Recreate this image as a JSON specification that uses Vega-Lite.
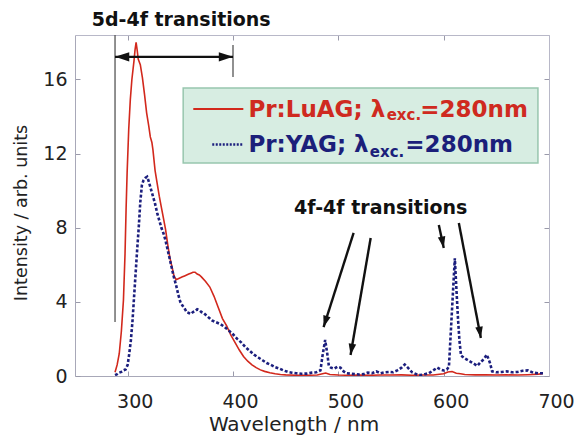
{
  "$schema": "https://vega.github.io/schema/vega-lite/v6.json",
  "width": 474,
  "height": 341,
  "autosize": {"type": "none"},
  "padding": {"left": 75, "top": 35, "right": 28, "bottom": 62},
  "background": "white",
  "config": {
    "view": {"stroke": null},
    "font": "DejaVu Sans",
    "axis": {"grid": false}
  },
  "datasets": {
    "luag": [
      {"w": 288, "v": 0.2}, {"w": 290, "v": 0.6}, {"w": 292, "v": 1.2}, {"w": 294, "v": 2.4},
      {"w": 296, "v": 4.1}, {"w": 297.5, "v": 6.6}, {"w": 298.5, "v": 9.0}, {"w": 299.5, "v": 11.0},
      {"w": 301, "v": 13.3}, {"w": 302.5, "v": 14.9}, {"w": 304, "v": 16.0}, {"w": 306, "v": 17.0},
      {"w": 307, "v": 17.6}, {"w": 308, "v": 18.0}, {"w": 309, "v": 17.6}, {"w": 310, "v": 17.1},
      {"w": 312, "v": 16.8}, {"w": 314, "v": 16.1}, {"w": 316, "v": 15.2}, {"w": 318, "v": 14.2},
      {"w": 320, "v": 13.5}, {"w": 321.5, "v": 12.9}, {"w": 323, "v": 12.6}, {"w": 324, "v": 12.2},
      {"w": 326, "v": 11.1}, {"w": 328, "v": 10.4}, {"w": 330, "v": 9.7}, {"w": 332, "v": 9.1},
      {"w": 334, "v": 8.5}, {"w": 336, "v": 7.9}, {"w": 338, "v": 7.1}, {"w": 340, "v": 6.4},
      {"w": 342, "v": 5.9}, {"w": 344, "v": 5.4}, {"w": 346, "v": 5.2}, {"w": 348, "v": 5.25},
      {"w": 350, "v": 5.3}, {"w": 352, "v": 5.35}, {"w": 354, "v": 5.4}, {"w": 356, "v": 5.45},
      {"w": 358, "v": 5.5}, {"w": 360, "v": 5.55}, {"w": 362, "v": 5.6}, {"w": 364, "v": 5.6},
      {"w": 366, "v": 5.5}, {"w": 368, "v": 5.45}, {"w": 370, "v": 5.35}, {"w": 374, "v": 5.1},
      {"w": 378, "v": 4.8}, {"w": 382, "v": 4.3}, {"w": 386, "v": 3.7}, {"w": 390, "v": 3.1},
      {"w": 394, "v": 2.7}, {"w": 398, "v": 2.2}, {"w": 402, "v": 1.8}, {"w": 406, "v": 1.4},
      {"w": 410, "v": 1.05}, {"w": 414, "v": 0.8}, {"w": 418, "v": 0.6}, {"w": 422, "v": 0.45},
      {"w": 426, "v": 0.33}, {"w": 430, "v": 0.25}, {"w": 435, "v": 0.18}, {"w": 440, "v": 0.12},
      {"w": 445, "v": 0.08}, {"w": 450, "v": 0.06}, {"w": 460, "v": 0.04}, {"w": 470, "v": 0.04},
      {"w": 480, "v": 0.05}, {"w": 485, "v": 0.12}, {"w": 488, "v": 0.16}, {"w": 492, "v": 0.08},
      {"w": 500, "v": 0.05}, {"w": 510, "v": 0.04}, {"w": 520, "v": 0.05}, {"w": 530, "v": 0.04},
      {"w": 540, "v": 0.05}, {"w": 550, "v": 0.05}, {"w": 560, "v": 0.06}, {"w": 570, "v": 0.04},
      {"w": 580, "v": 0.05}, {"w": 590, "v": 0.05}, {"w": 600, "v": 0.12}, {"w": 604, "v": 0.22},
      {"w": 608, "v": 0.24}, {"w": 612, "v": 0.15}, {"w": 616, "v": 0.12}, {"w": 620, "v": 0.08},
      {"w": 630, "v": 0.06}, {"w": 640, "v": 0.07}, {"w": 650, "v": 0.05}, {"w": 660, "v": 0.06},
      {"w": 670, "v": 0.05}, {"w": 680, "v": 0.07}, {"w": 690, "v": 0.1}, {"w": 694, "v": 0.12}
    ],
    "yag": [
      {"w": 288, "v": 0.05}, {"w": 290, "v": 0.1}, {"w": 292, "v": 0.18}, {"w": 294, "v": 0.22},
      {"w": 296, "v": 0.3}, {"w": 298, "v": 0.35}, {"w": 300, "v": 0.6}, {"w": 301.5, "v": 1.2},
      {"w": 303, "v": 1.9}, {"w": 304.5, "v": 2.9}, {"w": 306, "v": 4.2}, {"w": 307.5, "v": 5.5},
      {"w": 309, "v": 6.8}, {"w": 310.5, "v": 8.0}, {"w": 312, "v": 9.4}, {"w": 313.5, "v": 10.3},
      {"w": 315, "v": 10.55}, {"w": 317, "v": 10.7}, {"w": 318.5, "v": 10.75}, {"w": 320, "v": 10.5},
      {"w": 322, "v": 10.1}, {"w": 324, "v": 9.7}, {"w": 326, "v": 9.3}, {"w": 328, "v": 8.8},
      {"w": 330, "v": 8.4}, {"w": 332, "v": 8.0}, {"w": 334, "v": 7.7}, {"w": 336, "v": 7.3},
      {"w": 338, "v": 6.8}, {"w": 340, "v": 6.3}, {"w": 342, "v": 5.8}, {"w": 344, "v": 5.3},
      {"w": 346, "v": 4.9}, {"w": 348, "v": 4.4}, {"w": 350, "v": 4.0}, {"w": 352, "v": 3.8},
      {"w": 354, "v": 3.65}, {"w": 356, "v": 3.45}, {"w": 358, "v": 3.4}, {"w": 360, "v": 3.35},
      {"w": 362, "v": 3.45}, {"w": 364, "v": 3.5}, {"w": 366, "v": 3.6}, {"w": 368, "v": 3.55},
      {"w": 370, "v": 3.45}, {"w": 372, "v": 3.4}, {"w": 374, "v": 3.3}, {"w": 376, "v": 3.2},
      {"w": 378, "v": 3.1}, {"w": 380, "v": 3.0}, {"w": 384, "v": 2.9}, {"w": 388, "v": 2.8},
      {"w": 392, "v": 2.65}, {"w": 396, "v": 2.45}, {"w": 400, "v": 2.25}, {"w": 404, "v": 2.0},
      {"w": 408, "v": 1.8}, {"w": 412, "v": 1.55}, {"w": 416, "v": 1.35}, {"w": 420, "v": 1.15},
      {"w": 424, "v": 1.0}, {"w": 428, "v": 0.85}, {"w": 432, "v": 0.7}, {"w": 436, "v": 0.6},
      {"w": 440, "v": 0.48}, {"w": 444, "v": 0.4}, {"w": 448, "v": 0.3}, {"w": 452, "v": 0.22},
      {"w": 456, "v": 0.18}, {"w": 460, "v": 0.15}, {"w": 465, "v": 0.12}, {"w": 470, "v": 0.13},
      {"w": 475, "v": 0.18}, {"w": 479, "v": 0.2}, {"w": 483, "v": 0.3}, {"w": 485, "v": 1.1},
      {"w": 487.5, "v": 1.94}, {"w": 489.5, "v": 1.2}, {"w": 491, "v": 0.55}, {"w": 493, "v": 0.45},
      {"w": 496, "v": 0.4}, {"w": 499, "v": 0.5}, {"w": 502, "v": 0.45}, {"w": 505, "v": 0.25},
      {"w": 508, "v": 0.15}, {"w": 512, "v": 0.12}, {"w": 516, "v": 0.1}, {"w": 520, "v": 0.08},
      {"w": 524, "v": 0.1}, {"w": 528, "v": 0.18}, {"w": 532, "v": 0.15}, {"w": 536, "v": 0.25},
      {"w": 540, "v": 0.15}, {"w": 544, "v": 0.2}, {"w": 548, "v": 0.22}, {"w": 552, "v": 0.2},
      {"w": 556, "v": 0.3}, {"w": 560, "v": 0.45}, {"w": 563, "v": 0.62}, {"w": 566, "v": 0.45},
      {"w": 570, "v": 0.2}, {"w": 574, "v": 0.1}, {"w": 578, "v": 0.05}, {"w": 582, "v": 0.1},
      {"w": 586, "v": 0.15}, {"w": 590, "v": 0.3}, {"w": 594, "v": 0.45}, {"w": 597, "v": 0.35},
      {"w": 600, "v": 0.3}, {"w": 603, "v": 0.35}, {"w": 605, "v": 0.5}, {"w": 607, "v": 2.6},
      {"w": 609, "v": 4.7}, {"w": 610.6, "v": 6.35}, {"w": 612, "v": 4.8}, {"w": 613.7, "v": 3.0},
      {"w": 615, "v": 1.9}, {"w": 616.5, "v": 1.1}, {"w": 620, "v": 0.95}, {"w": 623, "v": 0.85},
      {"w": 626, "v": 0.75}, {"w": 629, "v": 0.65}, {"w": 632, "v": 0.55}, {"w": 635, "v": 0.75},
      {"w": 638, "v": 0.9}, {"w": 641, "v": 1.15}, {"w": 644, "v": 0.7}, {"w": 646, "v": 0.25},
      {"w": 650, "v": 0.2}, {"w": 655, "v": 0.22}, {"w": 660, "v": 0.25}, {"w": 665, "v": 0.2},
      {"w": 670, "v": 0.22}, {"w": 675, "v": 0.28}, {"w": 680, "v": 0.3}, {"w": 685, "v": 0.18},
      {"w": 690, "v": 0.15}, {"w": 695, "v": 0.15}
    ],
    "guides": [
      {"w": 288, "v": 18.4, "v2": 2.91},
      {"w": 400, "v": 17.86, "v2": 16.14}
    ],
    "arrows": [
      {"id": "span", "w": 288, "v": 17.22, "w2": 400, "v2": 17.22},
      {"id": "a1", "w": 514.5, "v": 7.72, "w2": 486.0, "v2": 2.64},
      {"id": "a2", "w": 530.7, "v": 7.45, "w2": 511.6, "v2": 1.13},
      {"id": "a3", "w": 595.4, "v": 8.15, "w2": 600.1, "v2": 6.91},
      {"id": "a4", "w": 614.4, "v": 8.26, "w2": 635.3, "v2": 2.05}
    ],
    "labels": [
      {"t": "5d-4f transitions", "w": 350.8, "v": 19.21},
      {"t": "4f-4f transitions", "w": 540.2, "v": 9.07}
    ],
    "legendbox": [{"w": 352.7, "w2": 689.5, "v": 15.54, "v2": 11.49}],
    "legendlines": [
      {"s": "LuAG", "w": 362.3, "w2": 409.8, "v": 14.41},
      {"s": "YAG", "w": 380.3, "w2": 409.8, "v": 12.49}
    ],
    "legendmain": [
      {"s": "LuAG", "t": "Pr:LuAG; λ", "w": 414.6, "v": 13.99},
      {"s": "YAG", "t": "Pr:YAG; λ", "w": 414.6, "v": 12.1}
    ],
    "legendsub": [
      {"s": "LuAG", "t": "exc.", "w": 545.9, "v": 13.8},
      {"s": "YAG", "t": "exc.", "w": 529.9, "v": 11.84}
    ],
    "legendtail": [
      {"s": "LuAG", "t": "=280nm", "w": 680.0, "v": 13.99},
      {"s": "YAG", "t": "=280nm", "w": 665.8, "v": 12.1}
    ],
    "frame": [{"w": 250, "v": 0}]
  },
  "layer": [
    {
      "layer": [
        {
          "data": {"name": "luag"},
          "mark": {"type": "line", "color": "#d2281c", "strokeWidth": 1.6, "clip": true},
          "encoding": {
            "x": {
              "field": "w", "type": "quantitative",
              "scale": {"domain": [250, 700], "nice": false, "zero": false},
              "axis": {
                "values": [300, 400, 500, 600, 700],
                "title": "Wavelength / nm",
                "tickSize": -5, "tickColor": "#9a9aaa", "domainColor": "#a8a8b8",
                "labelFont": "DejaVu Sans", "labelFontSize": 19, "labelColor": "#222222",
                "labelPadding": 21, "labelOffset": 7, "labelFlush": false,
                "titleFont": "DejaVu Sans", "titleFontSize": 20, "titleFontWeight": "normal",
                "titleColor": "#222222", "titleX": 218.5, "titleY": 48,
                "titleBaseline": "middle", "titleAlign": "center"
              }
            },
            "y": {
              "field": "v", "type": "quantitative",
              "scale": {"domain": [0, 18.4], "nice": false},
              "axis": {
                "values": [0, 4, 8, 12, 16],
                "title": "Intensity / arb. units",
                "tickSize": -5, "tickColor": "#9a9aaa", "domainColor": "#a8a8b8",
                "labelFont": "DejaVu Sans", "labelFontSize": 19, "labelColor": "#222222",
                "labelPadding": 13,
                "titleFont": "DejaVu Sans", "titleFontSize": 17.5, "titleFontWeight": "normal",
                "titleColor": "#222222", "titleX": -54, "titleY": 177.5,
                "titleBaseline": "middle", "titleAlign": "center", "titleAngle": -90
              }
            }
          }
        },
        {
          "data": {"name": "yag"},
          "mark": {"type": "line", "color": "#1c1f7e", "strokeWidth": 2.6, "strokeDash": [3, 2], "clip": true},
          "encoding": {
            "x": {"field": "w", "type": "quantitative"},
            "y": {"field": "v", "type": "quantitative"}
          }
        },
        {
          "data": {"name": "guides"},
          "mark": {"type": "rule", "color": "#555555", "strokeWidth": 1.3},
          "encoding": {
            "x": {"field": "w", "type": "quantitative"},
            "y": {"field": "v", "type": "quantitative"},
            "y2": {"field": "v2"}
          }
        },
        {
          "data": {"name": "arrows"},
          "mark": {"type": "rule", "color": "#111111", "strokeWidth": 2.4},
          "encoding": {
            "x": {"field": "w", "type": "quantitative"},
            "y": {"field": "v", "type": "quantitative"},
            "x2": {"field": "w2"},
            "y2": {"field": "v2"}
          }
        },
        {
          "data": {"name": "arrows"},
          "transform": [{"filter": "datum.id === 'span'"}],
          "mark": {"type": "point", "shape": "M0,0L-0.8,2.4L0.8,2.4Z", "filled": true, "color": "#111111", "opacity": 1, "size": 140, "angle": 270},
          "encoding": {
            "x": {"field": "w", "type": "quantitative"},
            "y": {"field": "v", "type": "quantitative"}
          }
        },
        {
          "data": {"name": "arrows"},
          "transform": [{"filter": "datum.id === 'span'"}],
          "mark": {"type": "point", "shape": "M0,0L-0.8,2.4L0.8,2.4Z", "filled": true, "color": "#111111", "opacity": 1, "size": 140, "angle": 90},
          "encoding": {
            "x": {"field": "w2", "type": "quantitative"},
            "y": {"field": "v2", "type": "quantitative"}
          }
        },
        {
          "data": {"name": "arrows"},
          "transform": [{"filter": "datum.id === 'a1'"}],
          "mark": {"type": "point", "shape": "M0,0L-0.8,2.4L0.8,2.4Z", "filled": true, "color": "#111111", "opacity": 1, "size": 90, "angle": 197.2},
          "encoding": {
            "x": {"field": "w2", "type": "quantitative"},
            "y": {"field": "v2", "type": "quantitative"}
          }
        },
        {
          "data": {"name": "arrows"},
          "transform": [{"filter": "datum.id === 'a2'"}],
          "mark": {"type": "point", "shape": "M0,0L-0.8,2.4L0.8,2.4Z", "filled": true, "color": "#111111", "opacity": 1, "size": 90, "angle": 189.5},
          "encoding": {
            "x": {"field": "w2", "type": "quantitative"},
            "y": {"field": "v2", "type": "quantitative"}
          }
        },
        {
          "data": {"name": "arrows"},
          "transform": [{"filter": "datum.id === 'a3'"}],
          "mark": {"type": "point", "shape": "M0,0L-0.8,2.4L0.8,2.4Z", "filled": true, "color": "#111111", "opacity": 1, "size": 90, "angle": 168.7},
          "encoding": {
            "x": {"field": "w2", "type": "quantitative"},
            "y": {"field": "v2", "type": "quantitative"}
          }
        },
        {
          "data": {"name": "arrows"},
          "transform": [{"filter": "datum.id === 'a4'"}],
          "mark": {"type": "point", "shape": "M0,0L-0.8,2.4L0.8,2.4Z", "filled": true, "color": "#111111", "opacity": 1, "size": 90, "angle": 170.8},
          "encoding": {
            "x": {"field": "w2", "type": "quantitative"},
            "y": {"field": "v2", "type": "quantitative"}
          }
        },
        {
          "data": {"name": "labels"},
          "mark": {"type": "text", "font": "DejaVu Sans", "fontWeight": "bold", "fontSize": 19, "color": "#111111", "align": "center", "baseline": "middle"},
          "encoding": {
            "x": {"field": "w", "type": "quantitative"},
            "y": {"field": "v", "type": "quantitative"},
            "text": {"field": "t"}
          }
        },
        {
          "data": {"name": "legendbox"},
          "mark": {"type": "rect", "fill": "#d7ede2", "stroke": "#98c6ae", "strokeWidth": 1.5},
          "encoding": {
            "x": {"field": "w", "type": "quantitative"},
            "x2": {"field": "w2"},
            "y": {"field": "v", "type": "quantitative"},
            "y2": {"field": "v2"}
          }
        },
        {
          "data": {"name": "legendlines"},
          "transform": [{"filter": "datum.s === 'LuAG'"}],
          "mark": {"type": "rule", "color": "#d2281c", "strokeWidth": 2},
          "encoding": {
            "x": {"field": "w", "type": "quantitative"},
            "x2": {"field": "w2"},
            "y": {"field": "v", "type": "quantitative"}
          }
        },
        {
          "data": {"name": "legendlines"},
          "transform": [{"filter": "datum.s === 'YAG'"}],
          "mark": {"type": "rule", "color": "#1c1f7e", "strokeWidth": 2.4, "strokeDash": [2, 1.5]},
          "encoding": {
            "x": {"field": "w", "type": "quantitative"},
            "x2": {"field": "w2"},
            "y": {"field": "v", "type": "quantitative"}
          }
        },
        {
          "data": {"name": "legendmain"},
          "mark": {"type": "text", "font": "DejaVu Sans", "fontWeight": "bold", "fontSize": 23, "align": "left", "baseline": "alphabetic"},
          "encoding": {
            "x": {"field": "w", "type": "quantitative"},
            "y": {"field": "v", "type": "quantitative"},
            "text": {"field": "t"},
            "color": {"field": "s", "type": "nominal", "scale": {"domain": ["LuAG", "YAG"], "range": ["#cf2a20", "#1b1f7a"]}, "legend": null}
          }
        },
        {
          "data": {"name": "legendsub"},
          "mark": {"type": "text", "font": "DejaVu Sans", "fontWeight": "bold", "fontSize": 15, "align": "left", "baseline": "alphabetic"},
          "encoding": {
            "x": {"field": "w", "type": "quantitative"},
            "y": {"field": "v", "type": "quantitative"},
            "text": {"field": "t"},
            "color": {"field": "s", "type": "nominal", "legend": null}
          }
        },
        {
          "data": {"name": "legendtail"},
          "mark": {"type": "text", "font": "DejaVu Sans", "fontWeight": "bold", "fontSize": 23, "align": "right", "baseline": "alphabetic"},
          "encoding": {
            "x": {"field": "w", "type": "quantitative"},
            "y": {"field": "v", "type": "quantitative"},
            "text": {"field": "t"},
            "color": {"field": "s", "type": "nominal", "legend": null}
          }
        }
      ]
    },
    {
      "data": {"name": "frame"},
      "mark": {"type": "point", "opacity": 0},
      "encoding": {
        "x": {
          "field": "w", "type": "quantitative",
          "scale": {"domain": [250, 700], "nice": false, "zero": false},
          "axis": {"orient": "top", "values": [300, 400, 500, 600, 700], "labels": false, "title": null, "tickSize": -5, "tickColor": "#9a9aaa", "domainColor": "#b8b8c8"}
        },
        "y": {
          "field": "v", "type": "quantitative",
          "scale": {"domain": [0, 18.4], "nice": false},
          "axis": {"orient": "right", "values": [0, 4, 8, 12, 16], "labels": false, "title": null, "tickSize": -5, "tickColor": "#9a9aaa", "domainColor": "#b8b8c8"}
        }
      }
    }
  ],
  "resolve": {"axis": {"x": "independent", "y": "independent"}}
}
